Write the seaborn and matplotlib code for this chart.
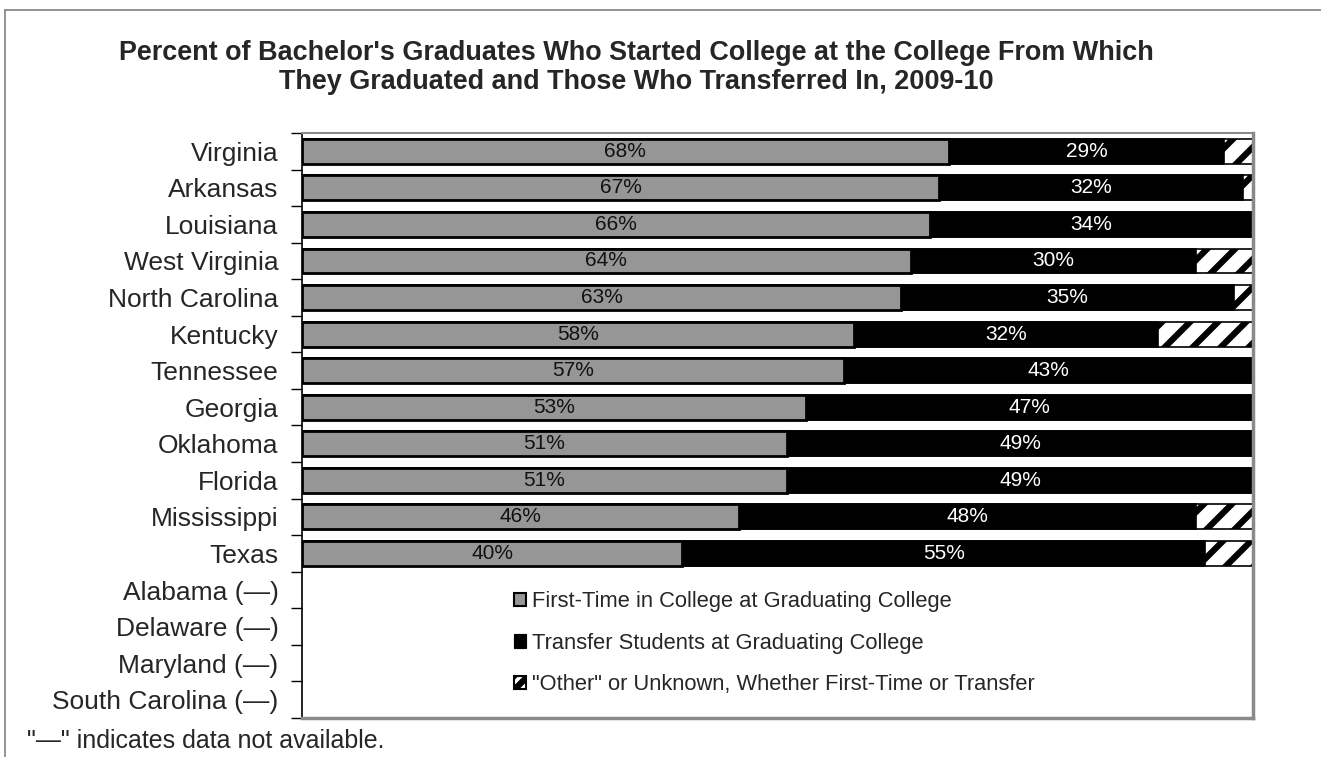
import numpy as np
import pandas as pd
import matplotlib
matplotlib.use("Agg")
import matplotlib.pyplot as plt
import seaborn as sns
from matplotlib.patches import Patch
from matplotlib.lines import Line2D

states = ["Virginia", "Arkansas", "Louisiana", "West Virginia", "North Carolina",
          "Kentucky", "Tennessee", "Georgia", "Oklahoma", "Florida", "Mississippi",
          "Texas", "Alabama (—)", "Delaware (—)", "Maryland (—)", "South Carolina (—)"]
first_time = [68, 67, 66, 64, 63, 58, 57, 53, 51, 51, 46, 40,
              np.nan, np.nan, np.nan, np.nan]
transfer = [29, 32, 34, 30, 35, 32, 43, 47, 49, 49, 48, 55,
            np.nan, np.nan, np.nan, np.nan]
other = [3, 1, 0, 6, 2, 10, 0, 0, 0, 0, 6, 5,
         np.nan, np.nan, np.nan, np.nan]

legend_labels = ["First-Time in College at Graduating College",
                 "Transfer Students at Graduating College",
                 "\"Other\" or Unknown, Whether First-Time or Transfer"]

df = pd.DataFrame({"state": states, "first": first_time,
                   "transfer": transfer, "other": other})
df["stack2"] = df["first"] + df["transfer"]
df["stack3"] = df["stack2"] + df["other"]

# dpi chosen so the hatch spacing comes out close to the original
DPI = 84
W, H = 1321, 757
S = 100 / DPI  # sizes below were tuned in "points at 100 dpi"

sns.set_style("white")
plt.rcParams["font.family"] = ["Liberation Sans", "DejaVu Sans"]
plt.rcParams["hatch.linewidth"] = 4.5 * S
plt.rcParams["hatch.color"] = "black"

fig = plt.figure(figsize=(W / DPI, H / DPI), dpi=DPI)
ax = fig.add_axes([302 / W, 1 - 718 / H, 951 / W, 585 / H])

bw = 0.68
# stacked layers drawn back to front
sns.barplot(data=df, y="state", x="stack3", order=states, orient="h",
            color="white", edgecolor="black", hatch="/", linewidth=1.2 * S,
            width=bw, saturation=1, ax=ax)
sns.barplot(data=df, y="state", x="stack2", order=states, orient="h",
            color="black", edgecolor="black", linewidth=1.2 * S,
            width=bw, saturation=1, ax=ax)
sns.barplot(data=df, y="state", x="first", order=states, orient="h",
            color="#969696", edgecolor="black", linewidth=2 * S,
            width=bw, saturation=1, ax=ax)

for i, row in df.iterrows():
    if np.isnan(row["first"]):
        continue
    ax.text(row["first"] / 2, i, f"{row['first']:.0f}%", ha="center",
            va="center", fontsize=15 * S, color="#111111")
    ax.text(row["first"] + row["transfer"] / 2, i, f"{row['transfer']:.0f}%",
            ha="center", va="center", fontsize=15 * S, color="white")

ax.set_xlim(0, 100)
ax.set_ylim(len(states) - 0.5, -0.5)
ax.set_xticks([])
ax.set_xlabel("")
ax.set_ylabel("")
ax.set_yticks(range(len(states)))
ax.set_yticklabels(states, fontsize=19 * S)
ax.tick_params(axis="y", which="major", length=0, pad=17 * S)
ax.set_yticks(np.arange(-0.5, len(states)), minor=True)
ax.tick_params(axis="y", which="minor", length=8 * S, width=1 * S,
               color="black", left=True)

for side in ["top", "right", "bottom"]:
    ax.spines[side].set_color("#8a8a8a")
ax.spines["top"].set_linewidth(1.5 * S)
ax.spines["right"].set_linewidth(2.5 * S)
ax.spines["bottom"].set_linewidth(2.5 * S)
ax.spines["left"].set_color("black")
ax.spines["left"].set_linewidth(1.2 * S)

handles = [Patch(facecolor="#969696", edgecolor="black", linewidth=1.5 * S),
           Patch(facecolor="black", edgecolor="black"),
           Patch(facecolor="white", edgecolor="black", hatch="//",
                 linewidth=1.5 * S)]
ax.legend(handles, legend_labels, loc="upper left",
          bbox_to_anchor=(0.211, 0.235), frameon=False, fontsize=15.8 * S,
          handlelength=0.55, handleheight=0.55, handletextpad=0.3,
          labelspacing=0.92, borderpad=0)

fig.text(636 / W, 1 - 67.5 / H,
         "Percent of Bachelor's Graduates Who Started College at the College From Which\n"
         "They Graduated and Those Who Transferred In, 2009-10",
         ha="center", va="center", fontsize=19.4 * S, fontweight="bold",
         linespacing=1.16)
fig.text(27 / W, 1 - 741 / H, "\"—\" indicates data not available.",
         ha="left", va="center", fontsize=18 * S)

# outer chart frame (left and top edges visible)
fig.add_artist(Line2D([5 / W, 5 / W], [0, 1 - 10 / H],
                      transform=fig.transFigure, color="#808080",
                      linewidth=1.2 * S))
fig.add_artist(Line2D([5 / W, 1], [1 - 10 / H, 1 - 10 / H],
                      transform=fig.transFigure, color="#808080",
                      linewidth=1.2 * S))

fig.savefig("out.png", dpi=DPI)
